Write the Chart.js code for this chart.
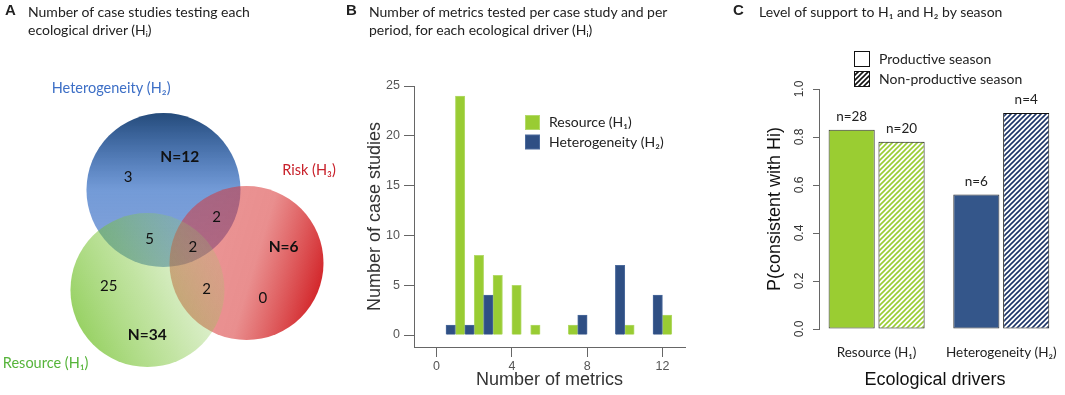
<!DOCTYPE html>
<html>
<head>
<meta charset="utf-8">
<script src="https://cdn.jsdelivr.net/npm/chart.js@4.4.0/dist/chart.umd.min.js"></script>
<style>
    html, body { margin: 0; padding: 0; background: #fff; }
    #wrap { position: relative; width: 1065px; height: 395px; overflow: hidden; font-family: Lato, sans-serif; color: #222; }
    canvas { position: absolute; top: 0; }
    .letter { position: absolute; top: 1px; font: bold 15px "Liberation Sans", Arial, sans-serif; line-height: 18px; }
    .ttl { position: absolute; font-size: 14px; line-height: 18px; white-space: nowrap; }
</style>
</head>
<body>
<div id="wrap">
    <canvas id="venn" width="345" height="395" style="left:0"></canvas>
    <canvas id="hist" width="355" height="395" style="left:345px"></canvas>
    <canvas id="season" width="365" height="395" style="left:700px"></canvas>

    <div class="letter" style="left:5px">A</div>
    <div class="ttl" style="left:28px;top:3px">Number of case studies testing each</div>
    <div class="ttl" style="left:28px;top:21px">ecological driver (Hᵢ)</div>

    <div class="letter" style="left:346px">B</div>
    <div class="ttl" style="left:369px;top:3px">Number of metrics tested per case study and per</div>
    <div class="ttl" style="left:369px;top:21px">period, for each ecological driver (Hᵢ)</div>

    <div class="letter" style="left:733px">C</div>
    <div class="ttl" style="left:759px;top:3px">Level of support to H₁ and H₂ by season</div>
</div>
<script>
// ---- Panel A data: case studies per combination of drivers
const vennSets = ['Resource (H₁)', 'Heterogeneity (H₂)', 'Risk (H₃)'];
const vennRegions = ['1', '2', '3', '12', '13', '23', '123'];
const vennCounts = [25, 3, 0, 5, 2, 2, 2];

// ---- Panel B data: number of metrics per case study
const resourceMetrics = [1, 2, 3, 4, 5, 7, 10, 12];
const resourceStudies = [24, 8, 6, 5, 1, 1, 1, 2];
const heteroMetrics = [1, 2, 3, 8, 10, 12];
const heteroStudies = [1, 1, 4, 2, 7, 4];
const histXTicks = [0, 4, 8, 12];
const histYTicks = [0, 5, 10, 15, 20, 25];

// ---- Panel C data: support by season
const drivers = ['Resource (H₁)', 'Heterogeneity (H₂)'];
const seasons = ['Productive season', 'Non-productive season'];
const pProductive = [0.83, 0.56];
const pNonProductive = [0.78, 0.90];
const nProductive = [28, 6];
const nNonProductive = [20, 4];
const supportTicks = [0, 0.2, 0.4, 0.6, 0.8, 1.0];

// Venn layout in circle-radius units (H2 centre = origin)
const vennLayout = {
    centres: { '1': [-0.208, -1.299], '2': [0, 0], '3': [1.078, -0.948] },
    regionPos: { '1': [-0.71, -1.25], '2': [-0.46, 0.17], '3': [1.29, -1.40], '12': [-0.18, -0.64],
                 '13': [0.56, -1.29], '23': [0.69, -0.35], '123': [0.38, -0.74] },
    totalPos: { '1': [-0.21, -1.88], '2': [0.21, 0.43], '3': [1.56, -0.74] },
    namePos: { '1': [-1.53, -2.25], '2': [-0.68, 1.32], '3': [1.89, 0.26] },
    nameColor: { '1': '#56b43a', '2': '#3d6fc6', '3': '#c8202a' }
};

Chart.defaults.font.family = '"Liberation Sans", Arial, sans-serif';
Chart.defaults.color = '#333';

// gradients for the three circles
function vennFill(c, key) {
    const chart = c.chart, sx = chart.scales.x, sy = chart.scales.y;
    const p = vennLayout.centres[key];
    const cx = sx.getPixelForValue(p[0]), cy = sy.getPixelForValue(p[1]);
    const r = sx.getPixelForValue(1) - sx.getPixelForValue(0);
    if (!isFinite(cx) || !isFinite(cy) || !isFinite(r)) return 'rgba(0,0,0,0)';
    const g = chart.ctx;
    let grad;
    if (key === '2') {
        grad = g.createLinearGradient(cx, cy - r, cx, cy + r);
        grad.addColorStop(0, 'rgba(25,65,115,0.95)');
        grad.addColorStop(0.5, 'rgba(22,88,188,0.6)');
        grad.addColorStop(1, 'rgba(15,75,185,0.5)');
    } else if (key === '3') {
        grad = g.createLinearGradient(cx + r, cy + 0.3 * r, cx - r, cy - 0.3 * r);
        grad.addColorStop(0, 'rgba(205,10,15,0.9)');
        grad.addColorStop(0.45, 'rgba(215,50,50,0.55)');
        grad.addColorStop(1, 'rgba(215,50,50,0.5)');
    } else {
        grad = g.createLinearGradient(cx - r, cy + 0.35 * r, cx + 0.8 * r, cy - 0.5 * r);
        grad.addColorStop(0, 'rgba(85,180,0,0.62)');
        grad.addColorStop(0.5, 'rgba(120,195,50,0.45)');
        grad.addColorStop(1, 'rgba(150,205,100,0.22)');
    }
    return grad;
}

function unitRadius(c) {
    const sx = c.chart.scales.x;
    const r = sx.getPixelForValue(1) - sx.getPixelForValue(0);
    return isFinite(r) ? r : 0;
}

const vennText = {
    id: 'vennText',
    afterDatasetsDraw(chart) {
        const ctx = chart.ctx, sx = chart.scales.x, sy = chart.scales.y;
        const px = p => [sx.getPixelForValue(p[0]), sy.getPixelForValue(p[1])];
        ctx.save();
        ctx.textAlign = 'center';
        ctx.textBaseline = 'middle';
        ctx.fillStyle = '#111';
        ctx.font = '15px Lato';
        vennRegions.forEach((k, i) => {
            const [x, y] = px(vennLayout.regionPos[k]);
            ctx.fillText(String(vennCounts[i]), x, y);
        });
        ['1', '2', '3'].forEach((s, i) => {
            const total = vennRegions.reduce((t, k, j) => t + (k.includes(s) ? vennCounts[j] : 0), 0);
            ctx.font = 'bold 15.5px Lato';
            ctx.fillStyle = '#111';
            let [x, y] = px(vennLayout.totalPos[s]);
            ctx.fillText('N=' + total, x, y);
            ctx.font = '14.5px Lato';
            ctx.fillStyle = vennLayout.nameColor[s];
            [x, y] = px(vennLayout.namePos[s]);
            ctx.fillText(vennSets[i], x, y);
        });
        ctx.restore();
    }
};

// Panel A: Venn diagram as large points on hidden linear scales
new Chart(document.getElementById('venn'), {
    type: 'scatter',
    data: {
        // first dataset is drawn on top
        datasets: ['1', '3', '2'].map(k => ({
            label: vennSets[+k - 1],
            data: [{ x: vennLayout.centres[k][0], y: vennLayout.centres[k][1] }],
            pointRadius: unitRadius,
            pointHoverRadius: unitRadius,
            pointBackgroundColor: c => vennFill(c, k),
            pointBorderWidth: 0,
            showLine: false
        }))
    },
    options: {
        responsive: false,
        animation: false,
        events: [],
        layout: { padding: 0, autoPadding: false },
        plugins: { legend: { display: false }, tooltip: { enabled: false } },
        scales: {
            x: { type: 'linear', display: false, min: -2.123, max: 2.357 },
            y: { type: 'linear', display: false, min: -2.662, max: 2.468 }
        }
    },
    plugins: [vennText]
});

// Panel B legend
const histLegend = {
    id: 'histLegend',
    afterDraw(chart) {
        const ctx = chart.ctx;
        const items = [chart.data.datasets[1], chart.data.datasets[0]];
        ctx.save();
        ctx.font = '14px Lato';
        ctx.textBaseline = 'middle';
        items.forEach((ds, i) => {
            const y = 115 + i * 19.5;
            ctx.fillStyle = ds.borderColor;
            ctx.fillRect(180, y, 15, 15);
            ctx.fillStyle = ds.backgroundColor;
            ctx.fillRect(181, y + 1, 13, 13);
            ctx.fillStyle = '#222';
            ctx.fillText(ds.label, 204, y + 7.5);
        });
        ctx.restore();
    }
};

const axisGrey = '#666';

new Chart(document.getElementById('hist'), {
    type: 'bar',
    data: {
        datasets: [
            {
                label: 'Heterogeneity (H₂)',
                data: heteroMetrics.map((m, i) => ({ x: m, y: heteroStudies[i] })),
                backgroundColor: '#2f4f84',
                borderColor: '#4c6b9c',
                borderWidth: 1,
                categoryPercentage: 1,
                barPercentage: 1
            },
            {
                label: 'Resource (H₁)',
                data: resourceMetrics.map((m, i) => ({ x: m, y: resourceStudies[i] })),
                backgroundColor: '#99cc33',
                borderColor: '#b3da6a',
                borderWidth: 1,
                categoryPercentage: 1,
                barPercentage: 1
            }
        ]
    },
    options: {
        responsive: false,
        animation: false,
        events: [],
        layout: { padding: { top: 86, right: 15, left: 0, bottom: 0 } },
        plugins: { legend: { display: false }, tooltip: { enabled: false } },
        scales: {
            x: {
                type: 'linear', min: -1.2, max: 13.2, offset: false,
                afterBuildTicks: s => { s.ticks = histXTicks.map(v => ({ value: v })); },
                afterFit: s => { s.height = 48; },
                grid: { drawOnChartArea: false, offset: false, tickLength: 10, color: axisGrey },
                border: { color: axisGrey },
                ticks: { color: '#555', font: { size: 12.5 }, padding: 2, maxRotation: 0, autoSkip: false },
                title: { display: true, text: 'Number of metrics', color: '#333', font: { size: 18 }, padding: { top: 0, bottom: 4 } }
            },
            y: {
                type: 'linear', min: -1.2, max: 25,
                afterBuildTicks: s => { s.ticks = histYTicks.map(v => ({ value: v })); },
                afterFit: s => { s.width = 69; },
                grid: { drawOnChartArea: false, tickLength: 10, color: axisGrey },
                border: { color: axisGrey },
                ticks: { color: '#555', font: { size: 12.5 }, padding: 4 },
                title: { display: true, text: 'Number of case studies', color: '#333', font: { size: 18 }, padding: { top: 19, bottom: 0 } }
            }
        }
    },
    plugins: [histLegend]
});

// Panel C: hatch patterns for the non-productive season
function hatch(color) {
    const c = document.createElement('canvas');
    c.width = 5; c.height = 5;
    const g = c.getContext('2d');
    g.fillStyle = '#fff';
    g.fillRect(0, 0, 5, 5);
    g.strokeStyle = color;
    g.lineWidth = 1.6;
    g.beginPath();
    g.moveTo(0, 5); g.lineTo(5, 0);
    g.moveTo(-1, 1); g.lineTo(1, -1);
    g.moveTo(4, 6); g.lineTo(6, 4);
    g.stroke();
    return g.createPattern(c, 'repeat');
}

const seasonGreen = '#9acd32';
const seasonBlue = '#34568a';

const nLabels = {
    id: 'nLabels',
    afterDatasetsDraw(chart) {
        const ctx = chart.ctx;
        ctx.save();
        ctx.font = '13.5px Lato';
        ctx.fillStyle = '#222';
        ctx.textAlign = 'center';
        ctx.textBaseline = 'middle';
        [nProductive, nNonProductive].forEach((ns, d) => {
            chart.getDatasetMeta(d).data.forEach((bar, i) => {
                ctx.fillText('n=' + ns[i], bar.x, bar.y - 13);
            });
        });
        ctx.restore();
    }
};

const seasonLegend = {
    id: 'seasonLegend',
    afterDraw(chart) {
        const ctx = chart.ctx;
        ctx.save();
        ctx.font = '14px Lato';
        ctx.textBaseline = 'middle';
        chart.data.datasets.forEach((ds, i) => {
            const y = 51 + i * 20;
            ctx.fillStyle = i === 0 ? '#fff' : hatch('#111');
            ctx.fillRect(154, y, 16, 16);
            ctx.strokeStyle = '#111';
            ctx.lineWidth = 1;
            ctx.strokeRect(154.5, y + 0.5, 15, 15);
            ctx.fillStyle = '#222';
            ctx.fillText(ds.label, 179, y + 8);
        });
        ctx.restore();
    }
};

new Chart(document.getElementById('season'), {
    type: 'bar',
    data: {
        datasets: [
            {
                label: seasons[0],
                data: pProductive.map((v, i) => ({ x: i + 1, y: v })),
                backgroundColor: [seasonGreen, seasonBlue],
                borderColor: '#333',
                borderWidth: 1,
                borderSkipped: false,
                categoryPercentage: 0.8,
                barPercentage: 0.925
            },
            {
                label: seasons[1],
                data: pNonProductive.map((v, i) => ({ x: i + 1, y: v })),
                backgroundColor: [hatch(seasonGreen), hatch('#1c3468')],
                borderColor: '#111',
                borderWidth: 1,
                borderSkipped: false,
                categoryPercentage: 0.8,
                barPercentage: 0.925
            }
        ]
    },
    options: {
        responsive: false,
        animation: false,
        events: [],
        layout: { padding: { top: 89, right: 2, left: 0, bottom: 0 } },
        plugins: { legend: { display: false }, tooltip: { enabled: false } },
        scales: {
            x: {
                type: 'linear', min: 0.538, max: 2.40, offset: false,
                afterBuildTicks: s => { s.ticks = drivers.map((d, i) => ({ value: i + 1 })); },
                afterFit: s => { s.height = 66; },
                grid: { display: false },
                border: { display: false },
                ticks: {
                    callback: v => drivers[v - 1], color: '#222', font: { family: 'Lato', size: 13.5 },
                    padding: 8, maxRotation: 0, autoSkip: false
                },
                title: { display: true, text: 'Ecological drivers', color: '#111', font: { size: 18 }, padding: { top: 0, bottom: 4 } }
            },
            y: {
                type: 'linear', min: 0, max: 1,
                afterBuildTicks: s => { s.ticks = supportTicks.map(v => ({ value: v })); },
                afterFit: s => { s.width = 119; },
                grid: { drawOnChartArea: false, tickLength: 6, color: axisGrey },
                border: { color: axisGrey },
                ticks: {
                    callback: v => v.toFixed(1), color: '#333', font: { size: 12 },
                    minRotation: 90, maxRotation: 90, crossAlign: 'center', padding: 5
                },
                title: { display: true, text: 'P(consistent with Hi)', color: '#111', font: { size: 18 }, padding: { top: 64, bottom: 0 } }
            }
        }
    },
    plugins: [nLabels, seasonLegend]
});
</script>
</body>
</html>
